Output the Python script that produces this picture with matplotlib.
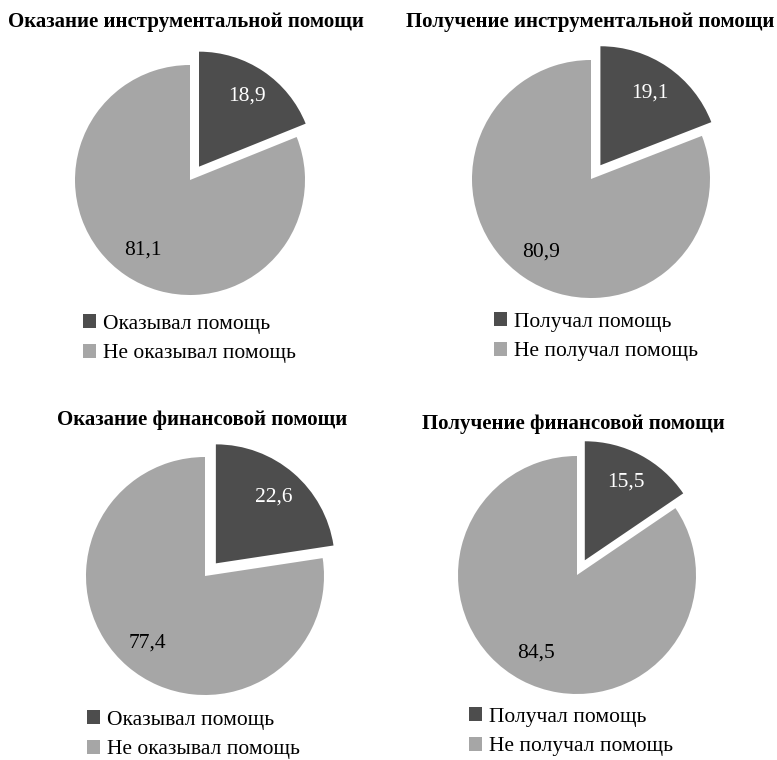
import matplotlib
matplotlib.use("Agg")
import matplotlib.pyplot as plt

plt.rcParams['font.family'] = ['Liberation Serif', 'DejaVu Serif']

# data
titles = ["Оказание инструментальной помощи",
          "Получение инструментальной помощи",
          "Оказание финансовой помощи",
          "Получение финансовой помощи"]
yes_values = [18.9, 19.1, 22.6, 15.5]
no_values = [81.1, 80.9, 77.4, 84.5]
legend_labels = [["Оказывал помощь", "Не оказывал помощь"],
                 ["Получал помощь", "Не получал помощь"],
                 ["Оказывал помощь", "Не оказывал помощь"],
                 ["Получал помощь", "Не получал помощь"]]

dark = "#4d4d4d"
light = "#a6a6a6"

W, H = 777, 760
fig = plt.figure(figsize=(W / 100, H / 100), dpi=100)

# layout in pixels: pie centre, radius, title centre, legend anchor
centers = [(190, 180), (591, 179), (205, 576), (577, 575)]
radii = [115, 119, 119, 119]
title_pos = [(186, 22), (590, 22), (202, 420), (573, 424)]
legend_pos = [(83, 314), (494, 312), (87, 710), (469, 707)]
L = 1.3


def fmt(p):
    return f"{p:.1f}".replace(".", ",")


for i in range(4):
    cx, cy = centers[i]
    S = 2 * L * radii[i]
    ax = fig.add_axes([(cx - S / 2) / W, 1 - (cy + S / 2) / H, S / W, S / H])
    wedges, texts, autotexts = ax.pie(
        [yes_values[i], no_values[i]], colors=[dark, light],
        explode=(0.14, 0), startangle=90, counterclock=False,
        autopct=fmt, pctdistance=0.74,
        wedgeprops=dict(linewidth=0),
        textprops=dict(fontsize=15.5))
    autotexts[0].set_color("white")
    autotexts[1].set_color("black")
    ax.set_xlim(-L, L)
    ax.set_ylim(-L, L)
    ax.axis("off")

    tx, ty = title_pos[i]
    fig.text(tx / W, 1 - ty / H, titles[i], ha="center", va="center",
             fontsize=15, fontweight="bold")

    lx, ly = legend_pos[i]
    ax.legend(wedges, legend_labels[i], loc="upper left",
              bbox_to_anchor=(lx / W, 1 - ly / H),
              bbox_transform=fig.transFigure, frameon=False,
              borderpad=0, borderaxespad=0, fontsize=15.5,
              handlelength=0.62, handleheight=0.62, handletextpad=0.3,
              labelspacing=0.47)

fig.savefig("out.png", dpi=100)
